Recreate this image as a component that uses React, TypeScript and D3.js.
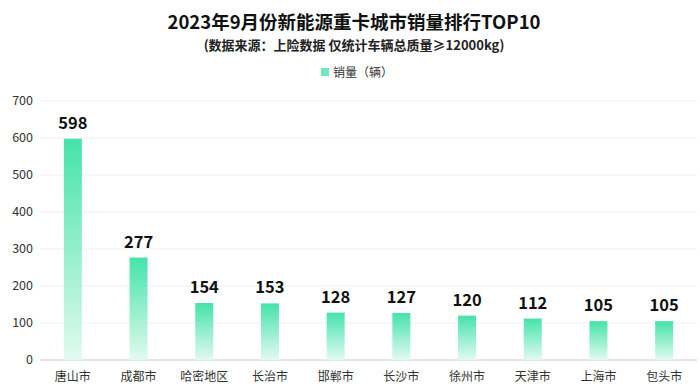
import React from "react";
import * as d3 from "d3";

const categories = ["唐山市", "成都市", "哈密地区", "长治市", "邯郸市", "长沙市", "徐州市", "天津市", "上海市", "包头市"];
const sales = [598, 277, 154, 153, 128, 127, 120, 112, 105, 105];
const yTicks = [0, 100, 200, 300, 400, 500, 600, 700];

const W = 700, H = 391;
const FONT = "'Noto Sans CJK SC', 'Microsoft YaHei', sans-serif";

export default function App() {
  const x = d3.scaleBand<string>().domain(categories).range([40, 697]).paddingInner(0).paddingOuter(0);
  const y = d3.scaleLinear().domain([0, 700]).range([360, 101]);
  const bw = 18;
  return (
    <svg width={W} height={H} style={{ position: "absolute", left: 0, top: 0, background: "#fff" }} fontFamily={FONT}>
      <defs>
        <linearGradient id="barGrad" x1="0" y1="0" x2="0" y2="1">
          <stop offset="0%" stopColor="#45e3aa" />
          <stop offset="100%" stopColor="#e2faf1" />
        </linearGradient>
      </defs>
      <text x={354} y={29} textAnchor="middle" fontSize={18.5} fontWeight={700} fill="#111">2023年9月份新能源重卡城市销量排行TOP10</text>
      <text x={354} y={49.5} textAnchor="middle" fontSize={13} fontWeight={700} fill="#222">(数据来源：上险数据 仅统计车辆总质量≥12000kg)</text>
      <rect x={321} y={68} width={8} height={8} fill="#6fe6bd" />
      <text x={333} y={77} fontSize={12} fill="#333">销量（辆）</text>
      {yTicks.map(t => (
        <g key={t}>
          <line x1={40} x2={697} y1={y(t)} y2={y(t)} stroke={t === 0 ? "#cccccc" : "#f0f0f0"} strokeWidth={1} />
          <text x={33} y={y(t) + 4} textAnchor="end" fontSize={12.5} fill="#333">{t}</text>
        </g>
      ))}
      {categories.map((c, i) => {
        const cx = (x(c) as number) + x.bandwidth() / 2;
        return (
          <g key={c}>
            <rect x={cx - bw / 2} y={y(sales[i])} width={bw} height={360 - y(sales[i])} fill="url(#barGrad)" />
            <text x={cx} y={y(sales[i]) - 10} textAnchor="middle" fontSize={16.5} fontWeight={700} fill="#111">{sales[i]}</text>
            <text x={cx} y={381} textAnchor="middle" fontSize={12} fill="#333">{c}</text>
          </g>
        );
      })}
    </svg>
  );
}
